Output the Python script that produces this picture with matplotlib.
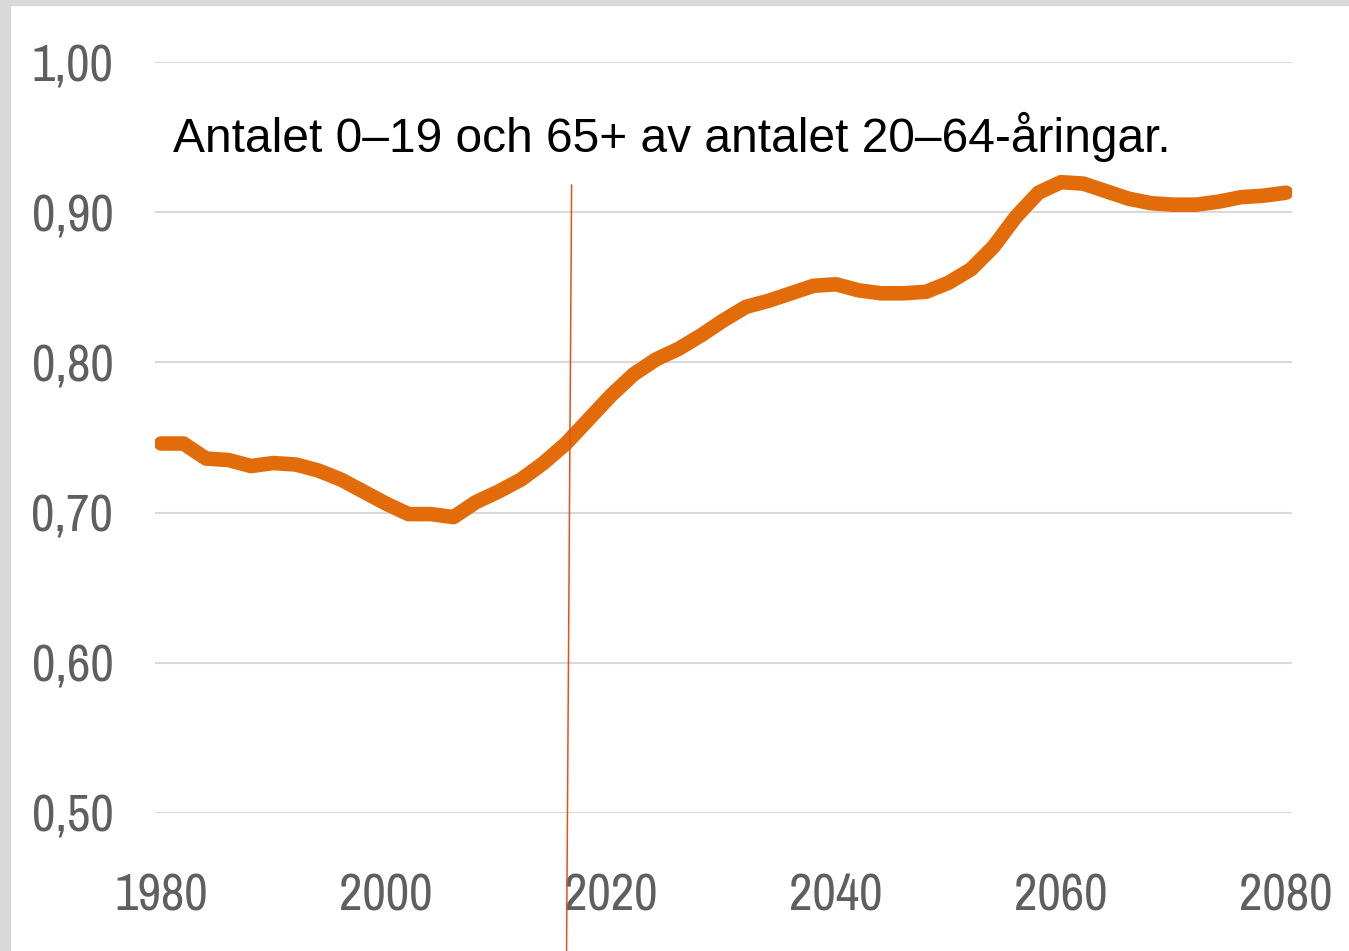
import matplotlib.pyplot as plt
import matplotlib.ticker as mticker
from matplotlib.patches import Rectangle

# försörjningskvot
years = list(range(1980, 2081, 2))
ratio = [0.746, 0.746, 0.736, 0.735, 0.731, 0.733, 0.732, 0.728, 0.722, 0.714,
         0.706, 0.699, 0.699, 0.697, 0.707, 0.714, 0.722, 0.733, 0.746, 0.762,
         0.778, 0.792, 0.802, 0.809, 0.818, 0.828, 0.837, 0.841, 0.846, 0.851,
         0.852, 0.848, 0.846, 0.846, 0.847, 0.853, 0.862, 0.877, 0.897, 0.913,
         0.920, 0.919, 0.914, 0.909, 0.906, 0.905, 0.905, 0.907, 0.910, 0.911,
         0.913]
yticks = [0.5, 0.6, 0.7, 0.8, 0.9, 1.0]
xticks = [1980, 2000, 2020, 2040, 2060, 2080]
title = 'Antalet 0–19 och 65+ av antalet 20–64-åringar.'
# markering av nuläget (lite sned linje i originalet)
mark_x = [2016.5, 2016.05]
mark_y = [0.918, 0.408]

fig = plt.figure(figsize=(13.49, 9.51), dpi=100)
# grå kant uppe och till vänster
fig.patches.append(Rectangle((0, 0), 10 / 1349, 1, transform=fig.transFigure,
                             color='#d9d9d9', zorder=0))
fig.patches.append(Rectangle((0, 1 - 5 / 951), 1, 5 / 951, transform=fig.transFigure,
                             color='#d9d9d9', zorder=0))

ax = fig.add_axes([155 / 1349, 138 / 951, 1137 / 1349, 751 / 951])
ax.plot(years, ratio, color='#E36C0A', lw=10.5, solid_capstyle='round',
        solid_joinstyle='round', zorder=3)
ax.plot(mark_x, mark_y, color='#E8501A', lw=1.1, clip_on=False, zorder=4)

ax.set_xlim(1979.47, 2080.53)
ax.set_ylim(0.5, 1.0)
ax.set_xticks(xticks)
ax.set_yticks(yticks)
ax.yaxis.set_major_formatter(mticker.FuncFormatter(lambda v, p: f'{v:.2f}'.replace('.', ',')))
ax.grid(axis='y', color='#d9d9d9', lw=1.5)
ax.set_axisbelow(True)
for s in ax.spines.values():
    s.set_visible(False)

tick_font = ['Liberation Sans Narrow', 'Archivo Narrow', 'DejaVu Sans']
ax.tick_params(length=0, labelcolor='#5f5f5f', labelsize=37)
ax.tick_params(axis='y', pad=30)
ax.tick_params(axis='x', pad=43)
for lab in ax.get_xticklabels() + ax.get_yticklabels():
    lab.set_family(tick_font)

fig.text(173 / 1349, 1 - 152 / 951, title, fontsize=34.5, color='black',
         family=['Liberation Sans', 'DejaVu Sans'], ha='left', va='baseline')

fig.savefig('out.png', dpi=100, facecolor='white')
